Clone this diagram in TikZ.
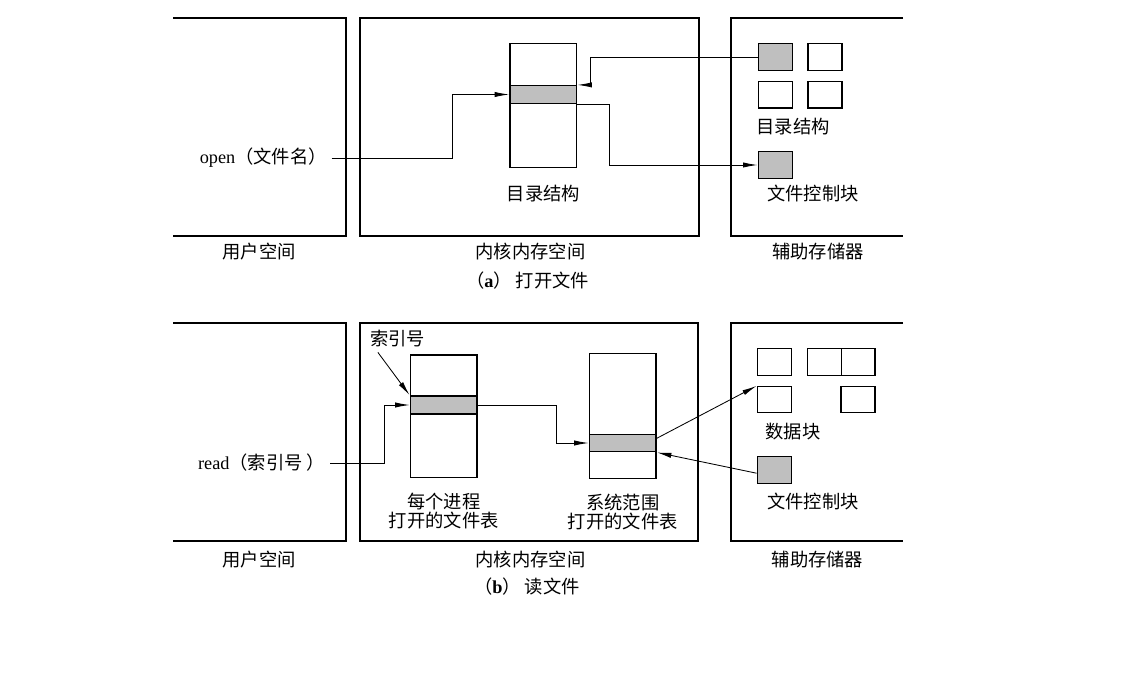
\documentclass[tikz,border=0pt]{standalone}
\usepackage{fontspec}
\setmainfont{Liberation Serif}
\newfontfamily\cjk{Noto Sans CJK SC}
\usetikzlibrary{arrows.meta, positioning, calc}

\begin{document}
\begin{tikzpicture}[
    x=0.025cm, y=-0.025cm,
    every node/.style={font=\fontsize{13}{13.5}\selectfont\cjk},
    panel/.style={line width=1.5pt},
    tab/.style={rectangle, draw, line width=1.1pt, minimum width=1.67cm, inner sep=0pt},
    row/.style={rectangle, draw, line width=1.1pt, fill=black!25, minimum width=1.67cm, minimum height=0.44cm, inner sep=0pt},
    blk/.style={rectangle, draw, line width=1.1pt, minimum width=0.86cm, minimum height=0.67cm, inner sep=0pt},
    fblk/.style={blk, fill=black!25},
    lbl/.style={align=center},
    arrow/.style={-{Latex[length=3.6mm, width=1.3mm]}, line width=0.6pt}
]
    \useasboundingbox (0,0) rectangle (1127,675);

    % (a) Open file
    \draw[panel] (173,18) -| (346,236) -- (173,236);
    \draw[panel] (360,18) rectangle (699,236);
    \draw[panel] (903,18) -| (730.7,236) -- (903,236);
    \node (usrA) at (259,252) {用户空间};
    \node (kerA) at (530.5,252) {内核内存空间};
    \node (auxA) at (818,252) {辅助存储器};
    \node (capA) at (527.5,281) {（\rmfamily\bfseries a\cjk\mdseries ） 打开文件};

    \node[tab, minimum height=3.11cm] (dirtab) at (543.3,105.5) {};
    \node[row] (dirent) at (543.3,94.5) {};
    \node[lbl, below=0.3cm of dirtab] (dirlbl) {目录结构};

    \node[fblk] (dirblk) at (775.5,57) {};
    \node[blk] (blkA2) at (825,57) {};
    \node[blk] (blkA3) at (775.5,94.7) {};
    \node[blk] (blkA4) at (825,94.7) {};
    \node (dirsto) at (793,127) {目录结构};
    \node[fblk] (fcbA) at (775.5,165) {};
    \node (fcbAlbl) at (813,194) {文件控制块};

    \node[anchor=east] (open) at (331.7,158) {\rmfamily open\cjk（文件名）};

    \draw[arrow] (open.east) -- ++(121,0) |- (dirent.west);
    \draw[arrow] (dirblk.west) -- ++(-167,0) |- (dirent.north east);
    \draw[arrow] (dirent.south east) -- ++(31.6,0) |- (fcbA.west);

    % (b) Read file
    \draw[panel] (173,323.3) -| (346,541) -- (173,541);
    \draw[panel] (360,323.3) rectangle (698.3,541);
    \draw[panel] (903,323.3) -| (730.7,541) -- (903,541);
    \node (usrB) at (259,560) {用户空间};
    \node (kerB) at (530.5,560) {内核内存空间};
    \node (auxB) at (817.5,560) {辅助存储器};
    \node (capB) at (527,587) {（\rmfamily\bfseries b\cjk\mdseries ） 读文件};

    \node[tab, minimum height=3.07cm] (ptab) at (443.8,416.3) {};
    \node[row, minimum height=0.45cm] (prow) at (443.8,405) {};
    \node[lbl, below=0.25cm of ptab] (plbl) {每个进程\\打开的文件表};
    \node (idx) at (397.5,339) {索引号};

    \node[tab, minimum height=3.125cm] (stab) at (622.8,415.8) {};
    \node[row, minimum height=0.435cm] (srow) at (622.8,443) {};
    \node[lbl, below=0.25cm of stab] (slbl) {系统范围\\打开的文件表};

    \node[blk] (datB1) at (774.5,362) {};
    \node[blk] (datB2) at (824.5,362) {};
    \node[blk, minimum width=0.83cm] (datB3) at (858.3,362) {};
    \node[blk, minimum height=0.65cm] (datB4) at (774.5,399.7) {};
    \node[blk, minimum height=0.65cm, minimum width=0.85cm] (datB5) at (858,399.7) {};
    \node (datlbl) at (793,431.7) {数据块};
    \node[fblk] (fcbB) at (774.5,470) {};
    \node (fcbBlbl) at (813,501.7) {文件控制块};

    \node[anchor=east] (read) at (330,463) {\rmfamily read\cjk（索引号 ）};

    \draw[arrow] (read.east) -- ++(54.3,0) |- (prow.west);
    \draw[arrow] ([xshift=-0.49cm]idx.south) -- (prow.north west);
    \draw[arrow] (prow.east) -- ++(78.3,0) |- (srow.west);
    \draw[arrow] ([yshift=0.12cm]srow.east) -- (datB4.north west);
    \draw[arrow] ([yshift=-0.08cm]fcbB.west) -- (srow.south east);
\end{tikzpicture}
\end{document}
